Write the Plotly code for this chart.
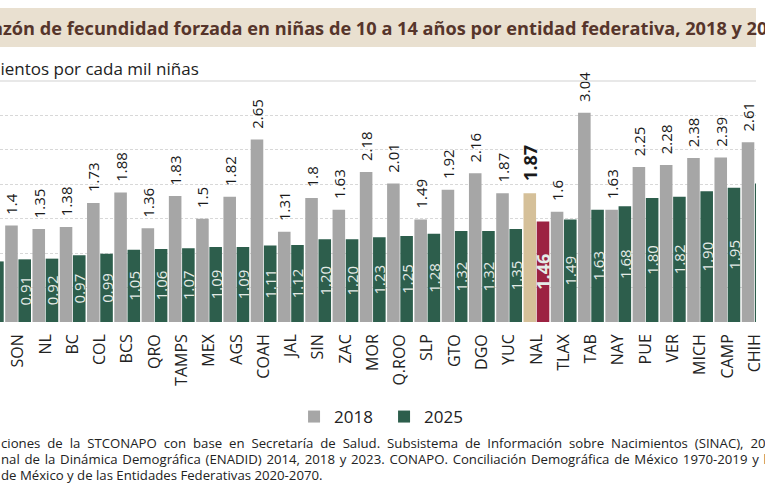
import plotly.graph_objects as go

categories = ["CDMX", "SON", "NL", "BC", "COL", "BCS", "QRO", "TAMPS", "MEX", "AGS",
              "COAH", "JAL", "SIN", "ZAC", "MOR", "Q.ROO", "SLP", "GTO", "DGO", "YUC",
              "NAL", "TLAX", "TAB", "NAY", "PUE", "VER", "MICH", "CAMP", "CHIH"]
values_2018 = [None, 1.4, 1.35, 1.38, 1.73, 1.88, 1.36, 1.83, 1.5, 1.82,
               2.65, 1.31, 1.8, 1.63, 2.18, 2.01, 1.49, 1.92, 2.16, 1.87,
               1.87, 1.6, 3.04, 1.63, 2.25, 2.28, 2.38, 2.39, 2.61]
values_2025 = [0.88, 0.91, 0.92, 0.97, 0.99, 1.05, 1.06, 1.07, 1.09, 1.09,
               1.11, 1.12, 1.20, 1.20, 1.23, 1.25, 1.28, 1.32, 1.32, 1.35,
               1.46, 1.49, 1.63, 1.68, 1.80, 1.82, 1.90, 1.95, 2.01]
national = "NAL"

FONT = "Open Sans"
GRAY, GREEN, BEIGE, RED = "#a6a6a6", "#2d5e4c", "#d5c099", "#9c2242"
PAD = "\u00a0\u00a0"

col18 = [BEIGE if c == national else GRAY for c in categories]
col25 = [RED if c == national else GREEN for c in categories]
txt18 = [("" if v is None else PAD + (f"<b>{v:g}</b>" if c == national else f"{v:g}"))
         for c, v in zip(categories, values_2018)]
txt25 = [(f"<b>{v:.2f}</b>" if c == national else f"{v:.2f}") for c, v in zip(categories, values_2025)]
sz18 = [18 if c == national else 15 for c in categories]
sz25 = [18 if c == national else 15 for c in categories]

fig = go.Figure()
fig.add_trace(go.Bar(
    x=categories, y=values_2018, name="2018", marker=dict(color=col18, line=dict(width=0)),
    text=txt18, textposition="outside", textangle=-90, constraintext="none",
    textfont=dict(family=FONT, size=sz18, color="#1a1a1a"), cliponaxis=False,
))
fig.add_trace(go.Bar(
    x=categories, y=values_2025, name="2025", marker=dict(color=col25, line=dict(width=0)),
    text=txt25, textposition="inside", insidetextanchor="middle", textangle=-90,
    constraintext="none", textfont=dict(family=FONT, size=sz25, color="#e4ebe7"),
    cliponaxis=False,
))

TOP, BOT = 81, 322
def py(p):
    return (BOT - p) / (BOT - TOP)

def justify(s, extra):
    return s.replace(" ", " " + extra)

fig.update_layout(
    width=765, height=500,
    margin=dict(l=0, r=0, t=TOP, b=500 - BOT),
    paper_bgcolor="white", plot_bgcolor="white",
    barmode="group", bargap=0.03, bargroupgap=0.05,
    font=dict(family=FONT, color="#222"),
    showlegend=True,
    legend=dict(orientation="h", x=0.508, xanchor="center", y=py(417), yanchor="middle",
                font=dict(family=FONT, size=17, color="#222"), itemwidth=30,
                entrywidth=45, traceorder="normal"),
    xaxis=dict(type="category", range=[0.337, 28.05], tickangle=-90, showgrid=False,
               tickfont=dict(family=FONT, size=16, color="#222"), ticks="",
               showline=False, zeroline=False, ticklabelstandoff=8),
    yaxis=dict(range=[0, 3.5], dtick=0.5, showticklabels=False, showgrid=True,
               gridcolor="#d8d8d8", griddash="3px,2px", gridwidth=1, zeroline=False),
    shapes=[
        dict(type="rect", xref="paper", yref="paper", x0=0, x1=1, y0=py(47), y1=py(8),
             fillcolor="#e9e0d0", line=dict(width=0), layer="below"),
        dict(type="line", xref="paper", yref="paper", x0=0, x1=1, y0=1, y1=1,
             line=dict(color="#e0e0e0", width=1.5)),
    ],
    annotations=[
        dict(text="<b>Razón de fecundidad forzada en niñas de 10 a 14 años por entidad federativa, 2018 y 2025</b>",
             xref="paper", yref="paper", x=0, xanchor="left", xshift=-22.5, y=py(28), yanchor="middle",
             showarrow=False, font=dict(family=FONT, size=18.2, color="#56352b")),
        dict(text="Nacimientos por cada mil niñas",
             xref="paper", yref="paper", x=0, xanchor="left", xshift=-52, y=py(68), yanchor="middle",
             showarrow=False, font=dict(family=FONT, size=17, color="#222")),
        dict(text=justify("ciones de la STCONAPO con base en Secretaría de Salud. Subsistema de Información sobre Nacimientos (SINAC), 2018-2025.", "\u2009\u200a"),
             xref="paper", yref="paper", x=0, xanchor="left", xshift=-1, y=py(443), yanchor="middle",
             showarrow=False, font=dict(family=FONT, size=13.2, color="#222")),
        dict(text=justify("nal de la Dinámica Demográfica (ENADID) 2014, 2018 y 2023. CONAPO. Conciliación Demográfica de México 1970-2019 y las Proyecciones", "\u200a"),
             xref="paper", yref="paper", x=0, xanchor="left", xshift=-1, y=py(459), yanchor="middle",
             showarrow=False, font=dict(family=FONT, size=13.2, color="#222")),
        dict(text="de México y de las Entidades Federativas 2020-2070.",
             xref="paper", yref="paper", x=0, xanchor="left", xshift=-1, y=py(475), yanchor="middle",
             showarrow=False, font=dict(family=FONT, size=13.2, color="#222")),
    ],
)

fig.write_html("out.html")
